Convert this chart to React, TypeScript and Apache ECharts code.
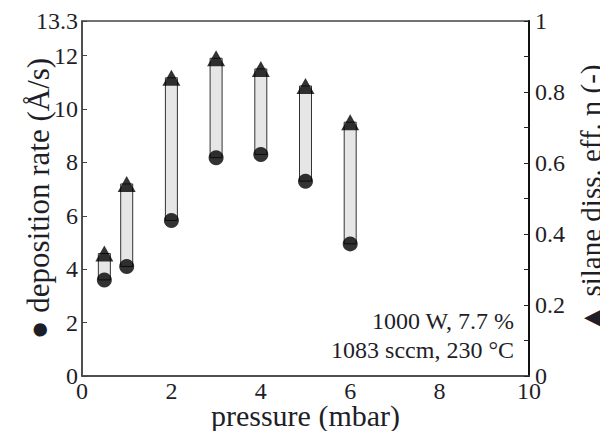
import React, { useEffect, useRef } from "react";
import * as echarts from "echarts";

const pressure = [0.5, 1, 2, 3, 4, 5, 6];
const depositionRate = [3.6, 4.1, 5.83, 8.18, 8.3, 7.3, 4.95];
const dissEfficiency = [0.345, 0.541, 0.84, 0.895, 0.865, 0.817, 0.715];
const xTicks = [0, 2, 4, 6, 8, 10];
const leftMax = 13.3;
const rightMax = 1;
const annotation = ["1000 W, 7.7 %", "1083 sccm, 230 °C"];

const FONT = "Liberation Serif";
const TXT = "#1e1e28";

export default function App() {
  const ref = useRef<HTMLDivElement>(null);
  useEffect(() => {
    if (!ref.current) return;
    const chart = echarts.init(ref.current, null, { renderer: "svg" });
    const ratio = leftMax / rightMax;
    const barData = pressure.map((p, i) => [p, depositionRate[i], dissEfficiency[i] * ratio]);
    chart.setOption({
      animation: false,
      textStyle: { fontFamily: FONT },
      grid: {
        left: 82,
        right: 79,
        top: 21,
        bottom: 63,
        outerBoundsMode: "none",
        containLabel: false,
        show: true,
        borderColor: "#444",
        borderWidth: 1.5,
        backgroundColor: "transparent",
      },
      xAxis: {
        type: "value",
        min: xTicks[0],
        max: xTicks[xTicks.length - 1],
        interval: 2,
        name: "pressure (mbar)",
        nameLocation: "middle",
        nameGap: 24,
        nameMoveOverlap: false,
        nameTextStyle: { fontFamily: FONT, fontSize: 30, color: TXT },
        axisLine: { show: true, lineStyle: { color: "#444", width: 1.5 } },
        axisTick: { show: false },
        splitLine: { show: false },
        axisLabel: { fontFamily: FONT, fontSize: 24, color: TXT, margin: 3 },
      },
      yAxis: [
        {
          type: "value",
          min: 0,
          max: leftMax,
          interval: 2,
          position: "left",
          name: "● deposition rate (Å/s)",
          nameLocation: "middle",
          nameGap: 28,
          nameMoveOverlap: false,
          nameTextStyle: { fontFamily: FONT, fontSize: 31, color: TXT },
          axisLine: { show: true, lineStyle: { color: "#444", width: 1.5 } },
          axisTick: { show: true, inside: true, length: 5, lineStyle: { color: "#444" } },
          splitLine: { show: false },
          axisLabel: { fontFamily: FONT, fontSize: 24, color: TXT, margin: 4 },
        },
        {
          type: "value",
          min: 0,
          max: rightMax,
          interval: 0.2,
          position: "right",
          name: "▲ silane diss. eff. η (-)",
          nameLocation: "middle",
          nameGap: 47,
          nameRotate: 90,
          nameMoveOverlap: false,
          nameTextStyle: { fontFamily: FONT, fontSize: 29, color: TXT },
          axisLine: { show: true, lineStyle: { color: "#111", width: 2 } },
          axisTick: { show: true, inside: true, length: 5, lineStyle: { color: "#222" } },
          minorTick: { show: true, splitNumber: 2, length: 5, lineStyle: { color: "#222" } },
          splitLine: { show: false },
          axisLabel: { fontFamily: FONT, fontSize: 24, color: TXT, margin: 6 },
        },
      ],
      series: [
        {
          type: "custom",
          xAxisIndex: 0,
          yAxisIndex: 0,
          data: barData,
          encode: { x: 0, y: [1, 2] },
          renderItem: (params: any, api: any) => {
            const x = api.value(0);
            const lo = api.coord([x, api.value(1)]);
            const hi = api.coord([x, api.value(2)]);
            const w = 12;
            return {
              type: "rect",
              shape: { x: lo[0] - w / 2, y: hi[1], width: w, height: lo[1] - hi[1] },
              style: { fill: "#e6e6e6", stroke: "#333", lineWidth: 1 },
            };
          },
          z: 1,
        },
        {
          type: "scatter",
          yAxisIndex: 0,
          data: pressure.map((p, i) => [p, depositionRate[i]]),
          symbol: "circle",
          symbolSize: 15,
          itemStyle: { color: "#000" },
          z: 3,
        },
        {
          type: "scatter",
          yAxisIndex: 1,
          data: pressure.map((p, i) => [p, dissEfficiency[i]]),
          symbol: "triangle",
          symbolSize: [18, 16],
          itemStyle: { color: "#000" },
          z: 3,
        },
      ],
      graphic: [
        {
          type: "text",
          right: 94,
          top: 309,
          style: { text: annotation[0], fontFamily: FONT, fontSize: 24, fill: TXT, textAlign: "right" },
        },
        {
          type: "text",
          right: 94,
          top: 338,
          style: { text: annotation[1], fontFamily: FONT, fontSize: 24, fill: TXT, textAlign: "right" },
        },
      ],
    });
    return () => chart.dispose();
  }, []);
  return <div ref={ref} style={{ width: 608, height: 439, margin: -8 }} />;
}
